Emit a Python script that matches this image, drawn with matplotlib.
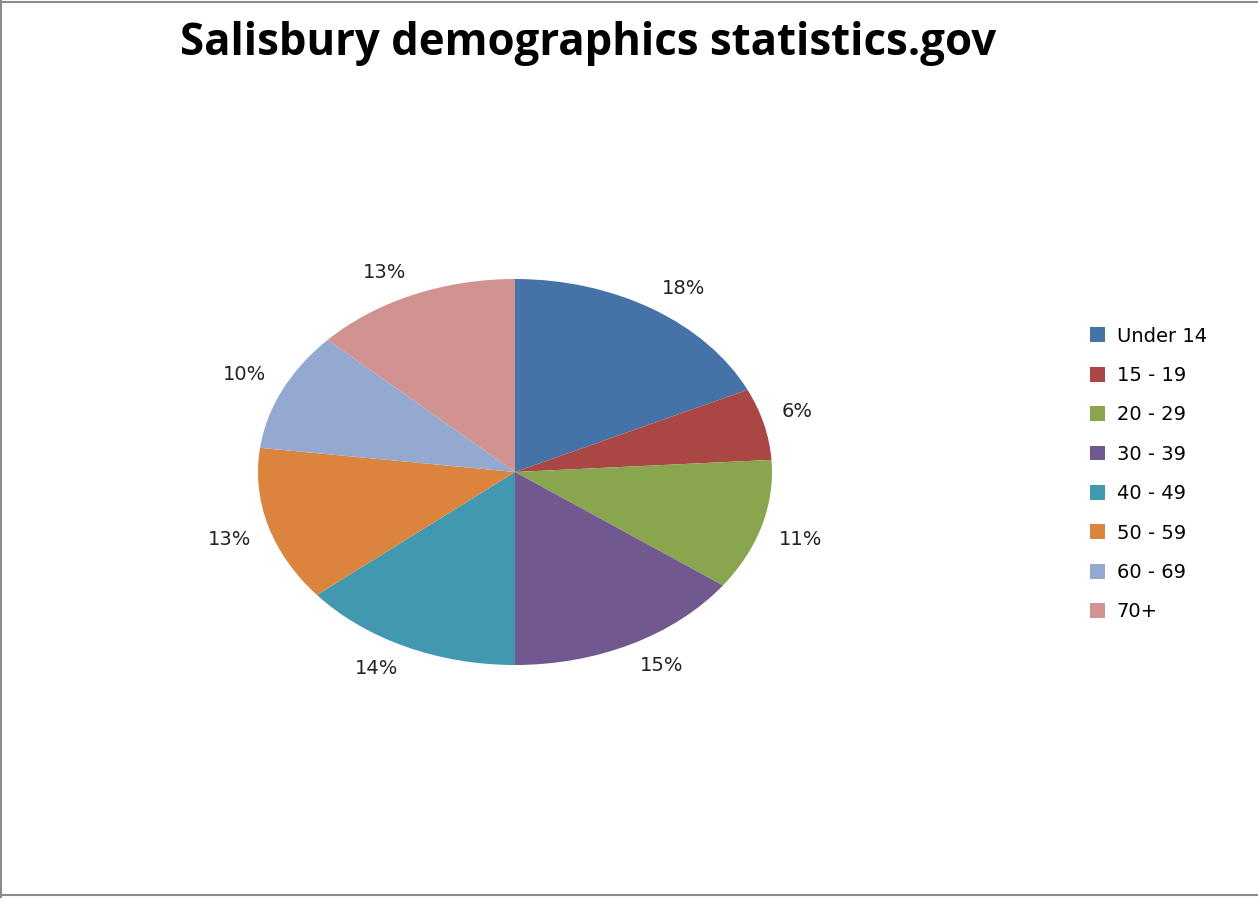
import matplotlib
matplotlib.use('Agg')
from matplotlib import pyplot as plt
from matplotlib.lines import Line2D

# data
age_groups = ['Under 14', '15 - 19', '20 - 29', '30 - 39', '40 - 49', '50 - 59', '60 - 69', '70+']
shares = [18, 6, 11, 15, 14, 13, 10, 13]
colors = ['#4572A7', '#AA4643', '#89A54E', '#71588F', '#4198AF', '#DB843D', '#93A9CF', '#D19392']
title = 'Salisbury demographics statistics.gov'

W, H = 1258, 898
fig = plt.figure(figsize=(W / 100, H / 100), dpi=100)
fig.patch.set_facecolor('white')

# elliptical pie: centre (515, 472), radii 257 x 193 px
cx, cy, rx, ry = 515, 472, 257, 193
ax = fig.add_axes([(cx - rx) / W, (H - cy - ry) / H, 2 * rx / W, 2 * ry / H])
wedges, texts = ax.pie(shares, colors=colors, startangle=90, counterclock=False,
                       labels=[f'{s}%' for s in shares], labeldistance=1.07,
                       wedgeprops=dict(linewidth=0),
                       textprops=dict(fontsize=14, family='DejaVu Sans', color='#222222'))
# push labels away from the ellipse vertically, as Excel does
for t in texts:
    t.set_va('bottom' if t.get_position()[1] > 0 else 'top')
ax.set_aspect('auto')
ax.set_xlim(-1, 1)
ax.set_ylim(-1, 1)
ax.axis('off')

fig.text(588 / W, 1 - 44 / H, title, ha='center', va='center',
         fontsize=31.5, fontweight='bold', family='Open Sans')

fig.legend(wedges, age_groups, loc='upper left', bbox_to_anchor=(1072 / W, 1 - 309 / H),
           frameon=False, handlelength=0.8, handleheight=0.8,
           handletextpad=0.6, labelspacing=1.05, prop=dict(family='DejaVu Sans', size=14))

# thin grey frame (top, left, bottom) of the chart area
frame = dict(color='#8c8c8c', linewidth=1.5, transform=fig.transFigure)
fig.add_artist(Line2D([0, 1], [1 - 1.5 / H, 1 - 1.5 / H], **frame))
fig.add_artist(Line2D([0.8 / W, 0.8 / W], [0, 1], **frame))
fig.add_artist(Line2D([0, 1], [3 / H, 3 / H], **frame))

fig.savefig('out.png', dpi=100)
